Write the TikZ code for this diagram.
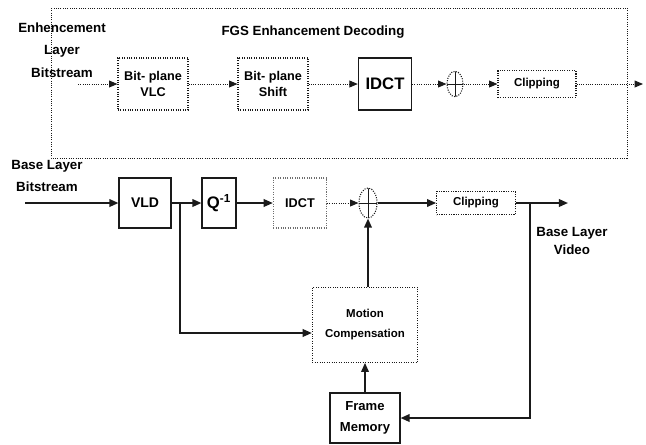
\documentclass[tikz,border=0pt]{standalone}
\usepackage{fontspec}
\setmainfont{Liberation Sans}
\usepackage{xcolor}
\definecolor{cInk}{HTML}{1A1A1A}
\definecolor{cFaint}{HTML}{6E6E6E}
\usepackage{tikz}
\usetikzlibrary{positioning, arrows.meta, shapes.geometric}

\begin{document}
\begin{tikzpicture}[x=0.75pt, y=-0.75pt,
    box/.style={draw=cInk, line width=0.8pt, align=center, inner sep=0pt,
                font=\bfseries\fontsize{9.5}{11.5}\selectfont},
    dbox/.style={box, densely dotted},
    adder/.style={draw=cInk, densely dotted, line width=0.8pt, ellipse, inner sep=0pt,
                  path picture={\draw[cInk, solid, line width=0.7pt]
                    (path picture bounding box.north) -- (path picture bounding box.south)
                    (path picture bounding box.west) -- (path picture bounding box.east);}},
    lbl/.style={align=center, font=\bfseries\fontsize{10}{17}\selectfont},
    arr/.style={-{Triangle[length=2.2mm, width=1.8mm]}, line width=0.7pt, color=cInk, densely dotted},
    thk/.style={-{Triangle[length=2.4mm, width=2mm]}, line width=1.3pt, color=cInk}
]
\useasboundingbox (0,0) rectangle (646,444);

% enhancement layer
\draw[cInk, densely dotted, line width=0.7pt] (51,8) rectangle (627,158);
\node[lbl] (title) at (313,32) {FGS Enhancement Decoding};
\node[lbl] (elbl) at (62,50) {Enhencement\\Layer\\Bitstream};
\coordinate (ein) at (78,84);
\node[dbox, minimum width=52.5pt, minimum height=39pt] (evlc) at (153,84) {Bit- plane\\VLC};
\node[dbox, minimum width=52.5pt, minimum height=39pt] (eshift) at (273,84) {Bit- plane\\Shift};
\node[box, minimum width=40pt, minimum height=39pt, font=\bfseries\fontsize{12.5}{14}\selectfont] (eidct) at (385,84) {IDCT};
\node[adder, minimum width=12pt, minimum height=19pt] (eadd) at (455,84) {};
\node[dbox, minimum width=58.5pt, minimum height=20pt, font=\bfseries\fontsize{8.6}{10}\selectfont] (eclip) at (537,84) {Clipping};
\coordinate (eout) at (643,84);

\draw[arr] (ein) -- (evlc);
\draw[arr] (evlc) -- (eshift);
\draw[arr] (eshift) -- (eidct);
\draw[arr] (eidct) -- (eadd);
\draw[arr] (eadd) -- (eclip);
\draw[arr] (eclip) -- (eout);

% base layer
\node[lbl] (blbl) at (47,176) {Base Layer\\Bitstream};
\coordinate (bin) at (25,203);
\node[box, minimum width=39pt, minimum height=37.5pt, font=\bfseries\fontsize{10.5}{12}\selectfont] (vld) at (145,203) {VLD};
\node[box, minimum width=25.5pt, minimum height=37.5pt, font=\bfseries\fontsize{12.5}{14}\selectfont] (iq) at (219,203) {Q\textsuperscript{-1}};
\node[dbox, draw=cFaint, minimum width=40pt, minimum height=37.5pt] (bidct) at (300,203) {IDCT};
\node[adder, minimum width=13.5pt, minimum height=22.5pt] (badd) at (368,203) {};
\node[dbox, minimum width=59pt, minimum height=17.5pt, font=\bfseries\fontsize{8.6}{10}\selectfont] (bclip) at (476,203) {Clipping};
\coordinate (tap) at (530,203);
\coordinate (bout) at (568,203);
\node[lbl, font=\bfseries\fontsize{10}{13.5}\selectfont] (vlbl) at (572,241) {Base Layer\\Video};
\node[dbox, minimum width=79pt, minimum height=56pt, font=\bfseries\fontsize{8.6}{15}\selectfont] (mc) at (365,325) {Motion\\Compensation};
\node[box, minimum width=52.5pt, minimum height=37.5pt, font=\bfseries\fontsize{9.8}{16}\selectfont] (fm) at (365,418) {Frame\\Memory};
\coordinate (vtap) at (180,203);

\draw[thk] (bin) -- (vld);
\draw[thk] (vld) -- (iq);
\draw[thk] (iq) -- (bidct);
\draw[arr] (bidct) -- (badd);
\draw[thk] (badd) -- (bclip);
\draw[thk] (bclip) -- (bout);
\draw[thk] (vtap) |- ([yshift=-6pt]mc.west);
\draw[thk] (mc.north -| badd.south) -- (badd.south);
\draw[thk] (fm) -- (mc);
\draw[thk] (tap) |- (fm);
\end{tikzpicture}
\end{document}
